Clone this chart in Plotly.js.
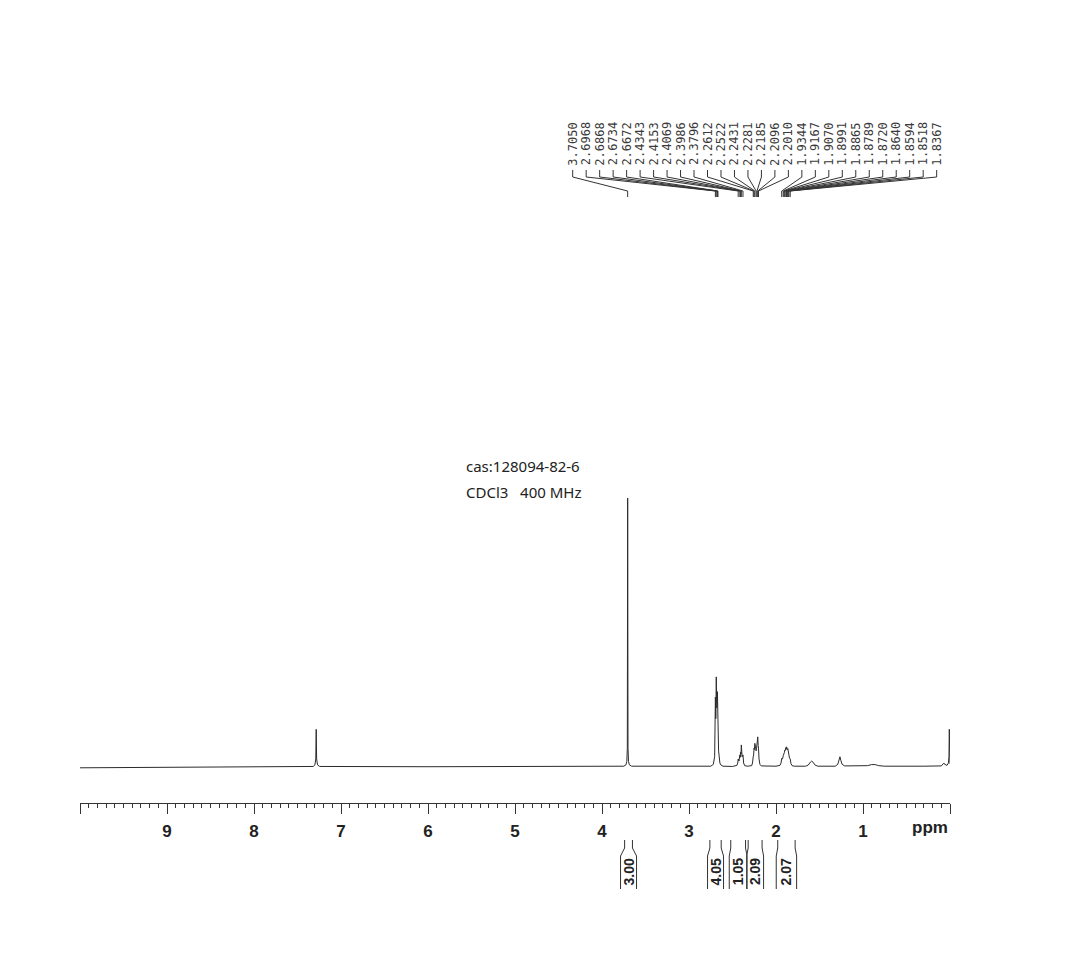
<!DOCTYPE html>
<html>
<head>
<meta charset="utf-8">
<script src="https://cdn.plot.ly/plotly-3.0.1.min.js"></script>
<style>html,body{margin:0;padding:0;background:#fff;}#chart{width:1072px;height:953px;}</style>
</head>
<body>
<div id="chart"></div>
<script>
// ---- spectrum points (ppm, relative intensity; 3.7050 peak = 100) ----
const ppm = [10.0, 9.0, 8.0, 7.5, 7.32, 7.30, 7.29, 7.285, 7.28, 7.27, 7.245, 6.0, 5.0, 4.0,
  3.75, 3.725, 3.715, 3.709, 3.705, 3.701, 3.695, 3.685, 3.66, 3.0,
  2.75, 2.72, 2.705, 2.6968, 2.692, 2.6868, 2.68, 2.6734, 2.670, 2.6672, 2.66, 2.645, 2.635, 2.61,
  2.5, 2.45, 2.44, 2.4343, 2.425, 2.4153, 2.411, 2.4069, 2.402, 2.3986, 2.39, 2.3796, 2.372, 2.36, 2.33,
  2.28, 2.27, 2.2612, 2.257, 2.2522, 2.248, 2.2431, 2.236, 2.2281, 2.223, 2.2185, 2.214, 2.2096, 2.205, 2.2010, 2.195, 2.185, 2.17,
  2.0, 1.955, 1.942, 1.9344, 1.925, 1.9167, 1.911, 1.9070, 1.903, 1.8991, 1.892, 1.8865, 1.882, 1.8789, 1.875, 1.8720, 1.868,
  1.8640, 1.861, 1.8594, 1.855, 1.8518, 1.845, 1.8367, 1.828, 1.815, 1.79,
  1.66, 1.63, 1.605, 1.59, 1.575, 1.55, 1.52,
  1.32, 1.29, 1.275, 1.265, 1.255, 1.24, 1.21,
  1.0, 0.95, 0.90, 0.88, 0.86, 0.82, 0.75,
  0.3, 0.1, 0.078, 0.07, 0.062, 0.035, 0.018, 0.012, 0.008, 0.004, 0.0];
const intensity = [-0.3, -0.1, 0.0, 0.1, 0.2, 0.8, 3.0, 14.0, 3.0, 0.8, 0.2, 0.1, 0.1, 0.2,
  0.3, 0.8, 2.0, 7.0, 100.0, 7.0, 2.0, 0.8, 0.3, 0.2,
  0.3, 1.0, 4.0, 26.0, 18.0, 33.5, 22.0, 28.0, 20.0, 22.0, 6.0, 1.5, 0.8, 0.3,
  0.2, 0.6, 1.5, 3.0, 2.2, 4.5, 3.6, 5.5, 4.8, 8.2, 3.8, 4.5, 1.5, 0.5, 0.3,
  0.5, 1.5, 4.0, 4.5, 7.0, 6.5, 8.8, 6.2, 6.0, 7.0, 9.0, 8.5, 11.2, 8.0, 7.0, 3.0, 1.0, 0.4,
  0.3, 0.6, 1.5, 3.2, 3.0, 4.2, 4.6, 5.2, 5.5, 6.3, 6.2, 7.2, 6.6, 7.5, 6.6, 7.3, 6.4,
  6.8, 5.8, 6.2, 5.0, 5.2, 3.3, 3.0, 1.3, 0.5, 0.3,
  0.3, 0.7, 1.8, 2.2, 1.8, 0.7, 0.3,
  0.3, 1.0, 2.5, 3.8, 2.5, 1.0, 0.4,
  0.3, 0.5, 0.9, 1.0, 0.9, 0.5, 0.3,
  0.3, 0.4, 1.2, 1.5, 1.0, 0.6, 1.5, 4.0, 14.0, 4.0, 1.2];

// ---- peak pick labels ----
const peakLabels = ["3.7050", "2.6968", "2.6868", "2.6734", "2.6672", "2.4343", "2.4153", "2.4069",
  "2.3986", "2.3796", "2.2612", "2.2522", "2.2431", "2.2281", "2.2185", "2.2096", "2.2010",
  "1.9344", "1.9167", "1.9070", "1.8991", "1.8865", "1.8789", "1.8720", "1.8640", "1.8594", "1.8518", "1.8367"];

// ---- integrals ----
const integralValues = ["3.00", "4.05", "1.05", "2.09", "2.07"];
const integralStart = [3.74, 2.76, 2.52, 2.32, 1.98];
const integralEnd = [3.65, 2.63, 2.35, 2.16, 1.78];

// ---- axis ticks ----
const tickValues = [10, 9, 8, 7, 6, 5, 4, 3, 2, 1, 0];
const tickLabels = ["", "9", "8", "7", "6", "5", "4", "3", "2", "1", ""];

const titleLines = ["cas:128094-82-6", "CDCl3\u00a0\u00a0\u00a0400 MHz"];

// layout geometry (pixels)
const W = 1072, H = 953, L = 80, R = 950, T = 100, B = 803;
const pxX = px => (px - L) / (R - L);          // pixel x -> paper x
const pxY = py => (B - py) / (B - T);          // pixel y -> paper y
const ppmToPx = p => L + (10 - p) / 10 * (R - L);

const lineColor = '#2b2b2b';
const shapes = [];
const annotations = [];

// peak labels with connector brackets
const slot0 = 572.7, slotStep = 13.48;
peakLabels.forEach((lab, i) => {
  const sx = slot0 + i * slotStep;
  annotations.push({
    xref: 'paper', yref: 'paper', x: pxX(sx), y: pxY(144),
    text: lab, showarrow: false, textangle: -90,
    xanchor: 'center', yanchor: 'middle',
    font: {family: 'DejaVu Sans Mono, monospace', size: 12, color: '#3a3a3a'}
  });
  const peakPx = ppmToPx(parseFloat(lab));
  shapes.push({
    type: 'path', xref: 'paper', yref: 'paper',
    path: `M ${pxX(sx)},${pxY(170)} L ${pxX(sx)},${pxY(177)} L ${pxX(peakPx)},${pxY(191)} L ${pxX(peakPx)},${pxY(197)}`,
    line: {color: '#333', width: 1}
  });
});

// integral brackets below axis
integralValues.forEach((v, i) => {
  const a = ppmToPx(integralStart[i]), b = ppmToPx(integralEnd[i]);
  const c = (a + b) / 2;
  const hw = Math.max((b - a) / 2 + 1.5, 8);
  const la = c - hw, rb = c + hw;
  shapes.push({
    type: 'path', xref: 'paper', yref: 'paper',
    path: `M ${pxX(a)},${pxY(840)} L ${pxX(a)},${pxY(848)} L ${pxX(la)},${pxY(856)} L ${pxX(la)},${pxY(889)}`,
    line: {color: '#333', width: 1}
  });
  shapes.push({
    type: 'path', xref: 'paper', yref: 'paper',
    path: `M ${pxX(b)},${pxY(840)} L ${pxX(b)},${pxY(848)} L ${pxX(rb)},${pxY(856)} L ${pxX(rb)},${pxY(889)}`,
    line: {color: '#333', width: 1}
  });
  annotations.push({
    xref: 'paper', yref: 'paper', x: pxX(c), y: pxY(872),
    text: v, showarrow: false, textangle: -90,
    xanchor: 'center', yanchor: 'middle',
    font: {family: 'Liberation Sans, Arial, sans-serif', size: 14, color: '#222', weight: 'bold'}
  });
});

// "ppm" unit label
annotations.push({
  xref: 'paper', yref: 'paper', x: pxX(950), y: pxY(827),
  text: 'ppm', showarrow: false, xanchor: 'right', yanchor: 'middle',
  font: {family: 'Liberation Sans, Arial, sans-serif', size: 17, color: '#222', weight: 'bold'}
});

// sample info text
titleLines.forEach((t, i) => {
  annotations.push({
    xref: 'paper', yref: 'paper', x: pxX(464), y: pxY(466 + i * 26),
    text: t, showarrow: false, xanchor: 'left', yanchor: 'middle',
    font: {family: 'Noto Sans, sans-serif', size: 15, color: '#222'}
  });
});

const trace = {
  x: ppm, y: intensity, type: 'scatter', mode: 'lines',
  line: {color: lineColor, width: 1}, hoverinfo: 'skip', cliponaxis: true
};

const yPerUnit = 2.69;
const layout = {
  width: W, height: H,
  margin: {l: L, r: W - R, t: T, b: H - B, pad: 0},
  paper_bgcolor: '#ffffff', plot_bgcolor: '#ffffff',
  showlegend: false,
  xaxis: {
    range: [10, 0], tickmode: 'array', tickvals: tickValues, ticktext: tickLabels,
    showgrid: false, zeroline: false, showline: true, linecolor: '#333', linewidth: 1,
    ticks: 'outside', ticklen: 10, tickwidth: 1, tickcolor: '#333',
    ticklabelstandoff: 3,
    tickfont: {family: 'Liberation Sans, Arial, sans-serif', size: 17, color: '#222', weight: 'bold'},
    minor: {tickmode: 'linear', tick0: 0, dtick: 0.1, ticks: 'outside', ticklen: 4, tickwidth: 1, tickcolor: '#333', showgrid: false},
    fixedrange: true
  },
  yaxis: {
    range: [-(B - 767) / yPerUnit, (767 - T) / yPerUnit],
    visible: false, showgrid: false, zeroline: false, fixedrange: true
  },
  shapes: shapes,
  annotations: annotations
};

Plotly.newPlot('chart', [trace], layout, {displayModeBar: false, staticPlot: true});
</script>
</body>
</html>
